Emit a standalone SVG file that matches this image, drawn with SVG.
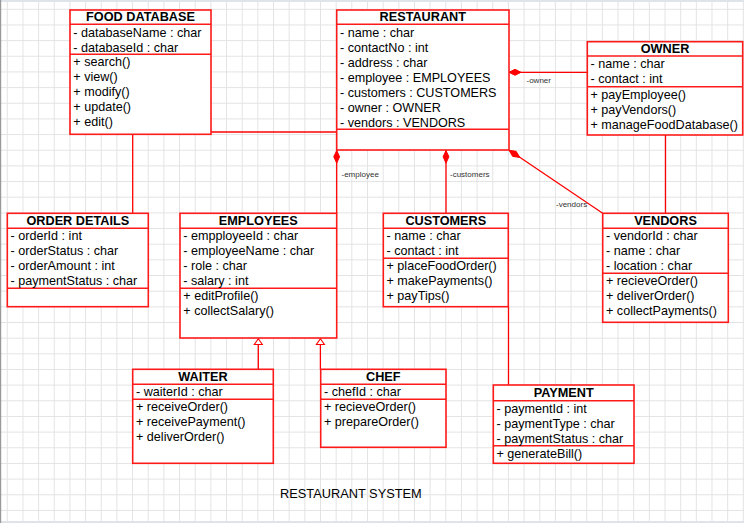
<svg xmlns="http://www.w3.org/2000/svg" width="744" height="523" viewBox="0 0 744 523">
  <defs>
    <pattern id="grid" x="6.8" y="8.8" width="15.66" height="15.66" patternUnits="userSpaceOnUse">
      <path d="M0.5 0 V15.66 M0 0.5 H15.66" fill="none" stroke="#e3e3e3" stroke-width="1"/>
    </pattern>
  </defs>
  <style>
    .box { fill: #fff; stroke: #ff1a1a; stroke-width: 1.6; }
    .sep { stroke: #ff1a1a; stroke-width: 1.4; }
    .title { font-family: "Liberation Sans", Arial, sans-serif; font-size: 12.7px; font-weight: bold; fill: #000; text-anchor: middle; }
    .row { font-family: "Liberation Sans", Arial, sans-serif; font-size: 12.6px; fill: #000; }
    .edge { fill: none; stroke: #ff0000; stroke-width: 1.3; }
    .dia { fill: #ff0000; stroke: #ff0000; stroke-width: 1; }
    .tri { fill: #fff; stroke: #ff0000; stroke-width: 1.1; }
    .lbl { font-family: "Liberation Sans", Arial, sans-serif; font-size: 8px; fill: #333; }
    .cap { font-family: "Liberation Sans", Arial, sans-serif; font-size: 12.8px; fill: #000; }
  </style>

  <!-- canvas -->
  <rect x="0" y="0" width="744" height="523" fill="#fff"/>
  <rect x="0" y="0" width="744" height="523" fill="url(#grid)"/>
  <rect x="0" y="0" width="744" height="2" fill="#dfe4ea"/>
  <rect x="0" y="521" width="744" height="2" fill="#dfe4ea"/>
  <rect x="0" y="0" width="1.2" height="523" fill="#999"/>

  <!-- connectors -->
  <g id="connectors">
    <!-- food database to restaurant -->
    <path class="edge" d="M211 132 H337"/>
    <!-- food database to order details -->
    <path class="edge" d="M132.7 134 V213.3"/>
    <!-- restaurant owns owner -->
    <path class="edge" d="M509 72.3 H587.3"/>
    <path class="dia" d="M509 72.3 L515 69.3 L521 72.3 L515 75.3 Z"/>
    <text class="lbl" x="526.5" y="83">-owner</text>
    <!-- owner to vendors -->
    <path class="edge" d="M665.5 135 V213.3"/>
    <!-- restaurant owns employees -->
    <path class="edge" d="M336.7 150 V213.3"/>
    <path class="dia" d="M336.7 150.5 L339.6 156.8 L336.7 163.1 L333.8 156.8 Z"/>
    <text class="lbl" x="341.5" y="177">-employee</text>
    <!-- restaurant owns customers -->
    <path class="edge" d="M446 150 V213.3"/>
    <path class="dia" d="M446 150.5 L448.9 156.8 L446 163.1 L443.1 156.8 Z"/>
    <text class="lbl" x="450" y="177">-customers</text>
    <!-- restaurant owns vendors -->
    <path class="edge" d="M509 150 L602.7 213.3"/>
    <path class="dia" d="M509 150.3 L512.7 156.4 L519.8 157.4 L516.1 151.3 Z"/>
    <text class="lbl" x="556" y="207">-vendors</text>
    <!-- customers to payment -->
    <path class="edge" d="M508.5 306.7 V385"/>
    <!-- generalizations: waiter and chef extend employees -->
    <path class="edge" d="M258.3 369.3 V344.5"/>
    <path class="tri" d="M258.3 338.8 L262.3 344.5 L254.3 344.5 Z"/>
    <path class="edge" d="M320.4 369.3 V344.5"/>
    <path class="tri" d="M320.4 338.8 L324.4 344.5 L316.4 344.5 Z"/>
  </g>

  <!-- FOOD DATABASE -->
  <g id="food-database">
    <rect class="box" x="70" y="10" width="141" height="124.3"/>
    <line class="sep" x1="70" y1="24.3" x2="211" y2="24.3"/>
    <line class="sep" x1="70" y1="54.3" x2="211" y2="54.3"/>
    <text class="title" x="140.5" y="21">FOOD DATABASE</text>
    <text class="row" x="73.3" y="36.5">- databaseName : char</text>
    <text class="row" x="73.3" y="51.5">- databaseId : char</text>
    <text class="row" x="73.3" y="66.3">+ search()</text>
    <text class="row" x="73.3" y="81.3">+ view()</text>
    <text class="row" x="73.3" y="96.3">+ modify()</text>
    <text class="row" x="73.3" y="111.3">+ update()</text>
    <text class="row" x="73.3" y="126.3">+ edit()</text>
  </g>

  <!-- RESTAURANT -->
  <g id="restaurant">
    <rect class="box" x="336.7" y="10" width="172.3" height="140"/>
    <line class="sep" x1="336.7" y1="24.3" x2="509" y2="24.3"/>
    <line class="sep" x1="336.7" y1="129.3" x2="509" y2="129.3"/>
    <text class="title" x="422.8" y="21">RESTAURANT</text>
    <text class="row" x="340" y="36.5">- name : char</text>
    <text class="row" x="340" y="51.5">- contactNo : int</text>
    <text class="row" x="340" y="66.5">- address : char</text>
    <text class="row" x="340" y="81.5">- employee : EMPLOYEES</text>
    <text class="row" x="340" y="96.5">- customers : CUSTOMERS</text>
    <text class="row" x="340" y="111.5">- owner : OWNER</text>
    <text class="row" x="340" y="126.5">- vendors : VENDORS</text>
  </g>

  <!-- OWNER -->
  <g id="owner">
    <rect class="box" x="587.3" y="41.7" width="155.4" height="93.3"/>
    <line class="sep" x1="587.3" y1="56" x2="742.7" y2="56"/>
    <line class="sep" x1="587.3" y1="86.7" x2="742.7" y2="86.7"/>
    <text class="title" x="665" y="52.7">OWNER</text>
    <text class="row" x="590.5" y="68">- name : char</text>
    <text class="row" x="590.5" y="83">- contact : int</text>
    <text class="row" x="590.5" y="98.5">+ payEmployee()</text>
    <text class="row" x="590.5" y="113.5">+ payVendors()</text>
    <text class="row" x="590.5" y="128.5">+ manageFoodDatabase()</text>
  </g>

  <!-- ORDER DETAILS -->
  <g id="order-details">
    <rect class="box" x="7.3" y="213.3" width="141" height="93.4"/>
    <line class="sep" x1="7.3" y1="228.3" x2="148.3" y2="228.3"/>
    <line class="sep" x1="7.3" y1="288.3" x2="148.3" y2="288.3"/>
    <text class="title" x="77.8" y="224.8">ORDER DETAILS</text>
    <text class="row" x="10.5" y="240">- orderId : int</text>
    <text class="row" x="10.5" y="255">- orderStatus : char</text>
    <text class="row" x="10.5" y="270">- orderAmount : int</text>
    <text class="row" x="10.5" y="285">- paymentStatus : char</text>
  </g>

  <!-- EMPLOYEES -->
  <g id="employees">
    <rect class="box" x="180" y="213.3" width="156.7" height="124.7"/>
    <line class="sep" x1="180" y1="228.3" x2="336.7" y2="228.3"/>
    <line class="sep" x1="180" y1="288.3" x2="336.7" y2="288.3"/>
    <text class="title" x="258.3" y="224.8">EMPLOYEES</text>
    <text class="row" x="183.3" y="240">- empployeeId : char</text>
    <text class="row" x="183.3" y="255">- employeeName : char</text>
    <text class="row" x="183.3" y="270">- role : char</text>
    <text class="row" x="183.3" y="285">- salary : int</text>
    <text class="row" x="183.3" y="300">+ editProfile()</text>
    <text class="row" x="183.3" y="315">+ collectSalary()</text>
  </g>

  <!-- CUSTOMERS -->
  <g id="customers">
    <rect class="box" x="383.3" y="213.3" width="125" height="93.4"/>
    <line class="sep" x1="383.3" y1="228.3" x2="508.3" y2="228.3"/>
    <line class="sep" x1="383.3" y1="258.3" x2="508.3" y2="258.3"/>
    <text class="title" x="445.8" y="224.8">CUSTOMERS</text>
    <text class="row" x="386.5" y="240">- name : char</text>
    <text class="row" x="386.5" y="255">- contact : int</text>
    <text class="row" x="386.5" y="270">+ placeFoodOrder()</text>
    <text class="row" x="386.5" y="285">+ makePayments()</text>
    <text class="row" x="386.5" y="300">+ payTips()</text>
  </g>

  <!-- VENDORS -->
  <g id="vendors">
    <rect class="box" x="602.7" y="213.3" width="125.6" height="109"/>
    <line class="sep" x1="602.7" y1="228.3" x2="728.3" y2="228.3"/>
    <line class="sep" x1="602.7" y1="273.3" x2="728.3" y2="273.3"/>
    <text class="title" x="665.5" y="224.8">VENDORS</text>
    <text class="row" x="606" y="240">- vendorId : char</text>
    <text class="row" x="606" y="255">- name : char</text>
    <text class="row" x="606" y="270">- location : char</text>
    <text class="row" x="606" y="285">+ recieveOrder()</text>
    <text class="row" x="606" y="300">+ deliverOrder()</text>
    <text class="row" x="606" y="315">+ collectPayments()</text>
  </g>

  <!-- WAITER -->
  <g id="waiter">
    <rect class="box" x="132.7" y="369.3" width="140.6" height="94"/>
    <line class="sep" x1="132.7" y1="384.3" x2="273.3" y2="384.3"/>
    <line class="sep" x1="132.7" y1="399.3" x2="273.3" y2="399.3"/>
    <text class="title" x="203" y="380.8">WAITER</text>
    <text class="row" x="136" y="396">- waiterId : char</text>
    <text class="row" x="136" y="411">+ receiveOrder()</text>
    <text class="row" x="136" y="426">+ receivePayment()</text>
    <text class="row" x="136" y="441">+ deliverOrder()</text>
  </g>

  <!-- CHEF -->
  <g id="chef">
    <rect class="box" x="320.7" y="369.3" width="125.3" height="78"/>
    <line class="sep" x1="320.7" y1="384.3" x2="446" y2="384.3"/>
    <line class="sep" x1="320.7" y1="399.3" x2="446" y2="399.3"/>
    <text class="title" x="383.3" y="380.8">CHEF</text>
    <text class="row" x="324" y="396">- chefId : char</text>
    <text class="row" x="324" y="411">+ recieveOrder()</text>
    <text class="row" x="324" y="426">+ prepareOrder()</text>
  </g>

  <!-- PAYMENT -->
  <g id="payment">
    <rect class="box" x="493.3" y="385" width="140.7" height="78.3"/>
    <line class="sep" x1="493.3" y1="400.7" x2="634" y2="400.7"/>
    <line class="sep" x1="493.3" y1="445.7" x2="634" y2="445.7"/>
    <text class="title" x="563.7" y="396.5">PAYMENT</text>
    <text class="row" x="496.5" y="412.5">- paymentId : int</text>
    <text class="row" x="496.5" y="427.5">- paymentType : char</text>
    <text class="row" x="496.5" y="442.5">- paymentStatus : char</text>
    <text class="row" x="496.5" y="457.5">+ generateBill()</text>
  </g>

  <text class="cap" x="280" y="498.3">RESTAURANT SYSTEM</text>
</svg>
